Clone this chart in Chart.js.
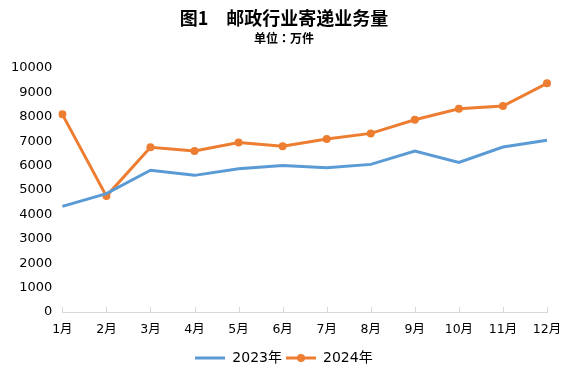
<!DOCTYPE html>
<html><head><meta charset="utf-8">
<script src="https://cdn.jsdelivr.net/npm/chart.js@4/dist/chart.umd.min.js"></script>
<style>html,body{margin:0;padding:0;background:#fff}</style>
</head><body>
<canvas id="c" width="567" height="378" style="width:567px;height:378px;display:block"></canvas>
<script>
const months = ['1月','2月','3月','4月','5月','6月','7月','8月','9月','10月','11月','12月'];
const series2023 = [4330,4850,5810,5600,5870,6000,5910,6050,6600,6130,6760,7040];
const series2024 = [8100,4750,6750,6600,6950,6790,7090,7320,7880,8330,8440,9370];
const seriesNames = ['2023年','2024年'];
const yTickValues = [0,1000,2000,3000,4000,5000,6000,7000,8000,9000,10000];

const BLUE = '#5B9BD5', ORANGE = '#ED7D31';
const FONT = '"DejaVu Sans", "Noto Sans CJK SC", sans-serif';

function legendImg(color, dot){
  const c = document.createElement('canvas');
  c.width = 30; c.height = 10;
  const g = c.getContext('2d');
  g.strokeStyle = color; g.lineWidth = 3;
  g.beginPath(); g.moveTo(0,5); g.lineTo(30,5); g.stroke();
  if (dot){ g.fillStyle = color; g.beginPath(); g.arc(15,5,4,0,Math.PI*2); g.fill(); }
  return c;
}
const legendImgs = [legendImg(BLUE,false), legendImg(ORANGE,true)];

const innerTicks = {
  id:'innerTicks',
  afterDraw(chart){
    const xs = chart.scales.x, ctx = chart.ctx, b = chart.chartArea.bottom;
    ctx.save(); ctx.strokeStyle = '#d9d9d9'; ctx.lineWidth = 1;
    for (let i=0;i<xs.ticks.length;i++){
      const x = Math.round(xs.getPixelForTick(i))+0.5;
      ctx.beginPath(); ctx.moveTo(x,b-5); ctx.lineTo(x,b); ctx.stroke();
    }
    ctx.restore();
  }
};

new Chart(document.getElementById('c'), {
  type:'line',
  data:{
    labels: months,
    datasets:[
      {label:seriesNames[0], data:series2023, borderColor:BLUE, backgroundColor:BLUE, borderWidth:3, pointRadius:0, pointHoverRadius:0, tension:0},
      {label:seriesNames[1], data:series2024, borderColor:ORANGE, backgroundColor:ORANGE, borderWidth:3, pointRadius:4, pointBorderWidth:0, pointBackgroundColor:ORANGE, tension:0}
    ]
  },
  options:{
    responsive:false, animation:false, devicePixelRatio:1,
    layout:{padding:{left:1, right:0, top:0, bottom:3}},
    plugins:{
      title:{display:true, text:'图1　邮政行业寄递业务量', color:'#000', font:{family:'"Noto Sans CJK SC", sans-serif', size:18, weight:'bold'}, padding:{top:7, bottom:1}},
      subtitle:{display:true, text:'单位：万件', color:'#000', font:{family:'"Noto Sans CJK TC", "Noto Sans CJK SC", sans-serif', size:12, weight:'bold'}, padding:{top:2, bottom:22}},
      legend:{position:'bottom', labels:{
        usePointStyle:true, pointStyleWidth:30, boxHeight:10, padding:4, color:'#000',
        font:{family:FONT, size:14},
        generateLabels(chart){
          return chart.data.datasets.map((d,i)=>({text:d.label, pointStyle:legendImgs[i], fillStyle:d.borderColor, strokeStyle:d.borderColor, lineWidth:0, hidden:false, datasetIndex:i, fontColor:'#000'}));
        }
      }},
      tooltip:{enabled:false}
    },
    scales:{
      x:{offset:false, grid:{display:false, drawTicks:false}, border:{display:true, color:'#d9d9d9', width:1},
         afterFit(s){ s.paddingRight = 20; },
         ticks:{color:'#000', padding:10, font:{family:FONT, size:12.5}, maxRotation:0, autoSkip:false}},
      y:{min:0, max:10000, afterBuildTicks(s){ s.ticks = yTickValues.map(v=>({value:v})); },
         grid:{display:false, drawTicks:false}, border:{display:false},
         ticks:{color:'#000', padding:10, font:{family:FONT, size:13}, callback:(v)=>String(v)}}
    }
  },
  plugins:[innerTicks]
});
</script>
</body></html>
